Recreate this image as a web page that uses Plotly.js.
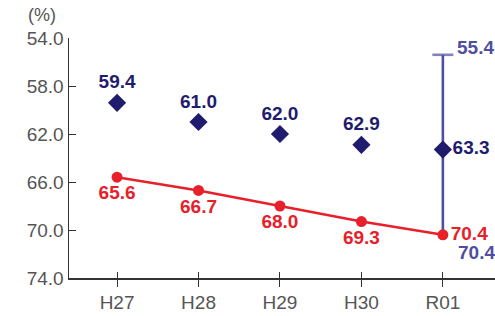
<!DOCTYPE html>
<html><head><meta charset="utf-8">
<script src="https://cdn.plot.ly/plotly-3.0.1.min.js"></script>
<style>html,body{margin:0;padding:0;background:#fff}#c{width:495px;height:316px}</style>
</head><body><div id="c"></div>
<script>
const categories = ['H27','H28','H29','H30','R01'];
const diamondValues = [59.4, 61.0, 62.0, 62.9, 63.3];
const redValues = [65.6, 66.7, 68.0, 69.3, 70.4];
const rangeCategory = ['R01','R01'];
const rangeValues = [55.4, 70.4];
const yTicks = [54, 58, 62, 66, 70, 74];

const navy = '#1f1c6e', red = '#e8202a', blue = '#4f4f9f', grey = '#555555';
const labelFont = {family:'Liberation Sans, Arial, sans-serif', size:19, weight:'bold'};

const traces = [
  {x: rangeCategory, y: rangeValues, mode:'lines+markers', cliponaxis:false,
   line:{color:blue, width:2.6},
   marker:{symbol:'line-ew', size:[15,1], line:{width:2.6, color:[blue,'rgba(0,0,0,0)']}},
   hoverinfo:'skip'},
  {x: categories, y: redValues, mode:'lines+markers+text', cliponaxis:false,
   line:{color:red, width:2.5}, marker:{color:red, size:11},
   text: redValues.map(v=>v.toFixed(1)),
   textposition: redValues.map((v,i)=> i===redValues.length-1 ? 'middle right' : 'bottom center'),
   textfont:Object.assign({color:red}, labelFont)},
  {x: categories, y: diamondValues, mode:'markers+text', cliponaxis:false,
   marker:{color:navy, size:14, symbol:'diamond'},
   text: diamondValues.map(v=>v.toFixed(1)),
   textposition: diamondValues.map((v,i)=> i===diamondValues.length-1 ? 'middle right' : 'top center'),
   textfont:Object.assign({color:navy}, labelFont)},
  {x: categories, y: redValues, xaxis:'x2', yaxis:'y', mode:'markers', marker:{opacity:0}, hoverinfo:'skip'}
];

const rangeShifts = [[12, 7], [13, -18]];
const rangeAnnotations = rangeValues.map((v, i) => ({
  text: v.toFixed(1), xref:'x', yref:'y', x: rangeCategory[i], y: v,
  xanchor:'left', yanchor:'middle', xshift: rangeShifts[i][0], yshift: rangeShifts[i][1],
  showarrow:false, font:Object.assign({color:blue}, labelFont)
}));

const layout = {
  width:495, height:316, showlegend:false,
  margin:{l:69, r:0, t:38, b:38},
  paper_bgcolor:'#fff', plot_bgcolor:'#fff',
  font:{family:'Liberation Sans, Arial, sans-serif', color:grey},
  xaxis:{type:'category', categoryarray:categories, range:[-0.59, 4.64],
    showline:true, linecolor:'#333', linewidth:1.5, ticks:'outside', ticklen:7, tickcolor:'#333', tickwidth:1,
    showgrid:false, zeroline:false, tickfont:{size:19, color:grey}},
  xaxis2:{type:'category', categoryarray:categories, overlaying:'x', matches:'x', side:'bottom',
    ticks:'inside', ticklen:6, tickcolor:'#333', tickwidth:1, showticklabels:false, showgrid:false, showline:false, zeroline:false},
  yaxis:{range:[74, 54], tickvals:yTicks, ticktext:yTicks.map(v=>v.toFixed(1)),
    showline:true, linecolor:'#333', linewidth:1.5, ticks:'inside', ticklen:7, tickcolor:'#333',
    showgrid:false, zeroline:false, tickfont:{size:19, color:grey}},
  annotations:[{text:'(%)', xref:'paper', yref:'paper', x:-0.063, y:1.0, xanchor:'center', yanchor:'middle', yshift:23, showarrow:false,
    font:{size:18, color:grey}}].concat(rangeAnnotations)
};
Plotly.newPlot('c', traces, layout, {displayModeBar:false, staticPlot:true});
</script></body></html>
